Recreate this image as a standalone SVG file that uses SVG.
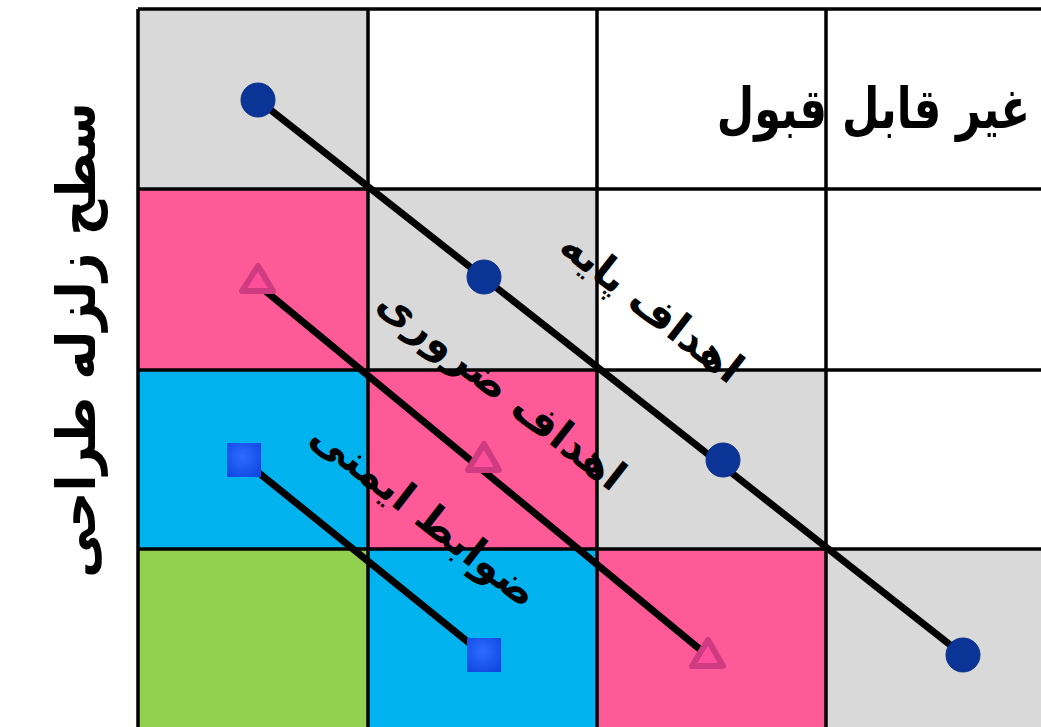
<svg xmlns="http://www.w3.org/2000/svg" width="1041" height="727" viewBox="0 0 1041 727">
<defs>
<style>
.g{fill:#d9d9d9}.w{fill:#ffffff}.p{fill:#ff5a98}.c{fill:#00b2ee}.gr{fill:#92d050}
.grid{stroke:#000;stroke-width:3.5;fill:none}
.conn{stroke:#000;stroke-width:7;stroke-linecap:round}
.t{font-family:"DejaVu Sans",sans-serif;font-weight:bold;fill:#000}
.circ{fill:#0b3497;stroke:#0a2e88;stroke-width:1}
.tri{fill:#ff4f9a;stroke:#cf3b80;stroke-width:6;stroke-linejoin:round}
.sq{fill:url(#sqg)}
</style>
<radialGradient id="sqg" cx="0.45" cy="0.4" r="0.7">
<stop offset="0" stop-color="#2d6cff"/>
<stop offset="1" stop-color="#1048e0"/>
</radialGradient>
</defs>
<rect width="1041" height="727" fill="#fff"/>
<g id="cells">
<rect class="g" x="138" y="9" width="230" height="180"/>
<rect class="w" x="368" y="9" width="229" height="180"/>
<rect class="w" x="597" y="9" width="229" height="180"/>
<rect class="w" x="826" y="9" width="215" height="180"/>
<rect class="p" x="138" y="189" width="230" height="181"/>
<rect class="g" x="368" y="189" width="229" height="181"/>
<rect class="w" x="597" y="189" width="229" height="181"/>
<rect class="w" x="826" y="189" width="215" height="181"/>
<rect class="c" x="138" y="370" width="230" height="179"/>
<rect class="p" x="368" y="370" width="229" height="179"/>
<rect class="g" x="597" y="370" width="229" height="179"/>
<rect class="w" x="826" y="370" width="215" height="179"/>
<rect class="gr" x="138" y="549" width="230" height="178"/>
<rect class="c" x="368" y="549" width="229" height="178"/>
<rect class="p" x="597" y="549" width="229" height="178"/>
<rect class="g" x="826" y="549" width="215" height="178"/>
</g>
<g id="gridlines" class="grid">
<line x1="138" y1="9" x2="138" y2="727"/>
<line x1="368" y1="9" x2="368" y2="727"/>
<line x1="597" y1="9" x2="597" y2="727"/>
<line x1="826" y1="9" x2="826" y2="727"/>
<line x1="138" y1="9" x2="1041" y2="9"/>
<line x1="138" y1="189" x2="1041" y2="189"/>
<line x1="138" y1="370" x2="1041" y2="370"/>
<line x1="138" y1="549" x2="1041" y2="549"/>
</g>
<g id="connectors">
<line class="conn" x1="258" y1="100" x2="963" y2="655"/>
<line class="conn" x1="257" y1="284" x2="708" y2="656"/>
<line class="conn" x1="243" y1="460" x2="484" y2="655"/>
</g>
<g id="basic-objectives">
<circle class="circ" cx="258" cy="100" r="17"/>
<circle class="circ" cx="484" cy="277" r="17"/>
<circle class="circ" cx="723" cy="460" r="17"/>
<circle class="circ" cx="963" cy="655" r="17"/>
<text class="t" font-size="42" text-anchor="middle" transform="translate(643,318) rotate(38)">اهداف پایه</text>
</g>
<g id="essential-objectives">
<polygon class="tri" points="258,266 273,291 242,291"/>
<polygon class="tri" points="484,444 499,470 468,470"/>
<polygon class="tri" points="708,640 723,666 692,666"/>
<text class="t" font-size="42" text-anchor="middle" transform="translate(493,400) rotate(38)">اهداف ضروری</text>
</g>
<g id="safety-codes">
<rect class="sq" x="227" y="443" width="34" height="34"/>
<rect class="sq" x="467" y="638" width="34" height="34"/>
<text class="t" font-size="42" text-anchor="middle" transform="translate(416,525) rotate(38)">ضوابط ایمنی</text>
</g>
<g id="unacceptable">
<text class="t" font-size="56" text-anchor="end" transform="translate(1030,128) scale(0.77,1)">غير قابل قبول</text>
</g>
<g id="axis-label">
<text class="t" font-size="54" text-anchor="middle" transform="translate(95,340) rotate(-90) scale(0.92,1)">سطح زلزله طراحی</text>
</g>
</svg>
